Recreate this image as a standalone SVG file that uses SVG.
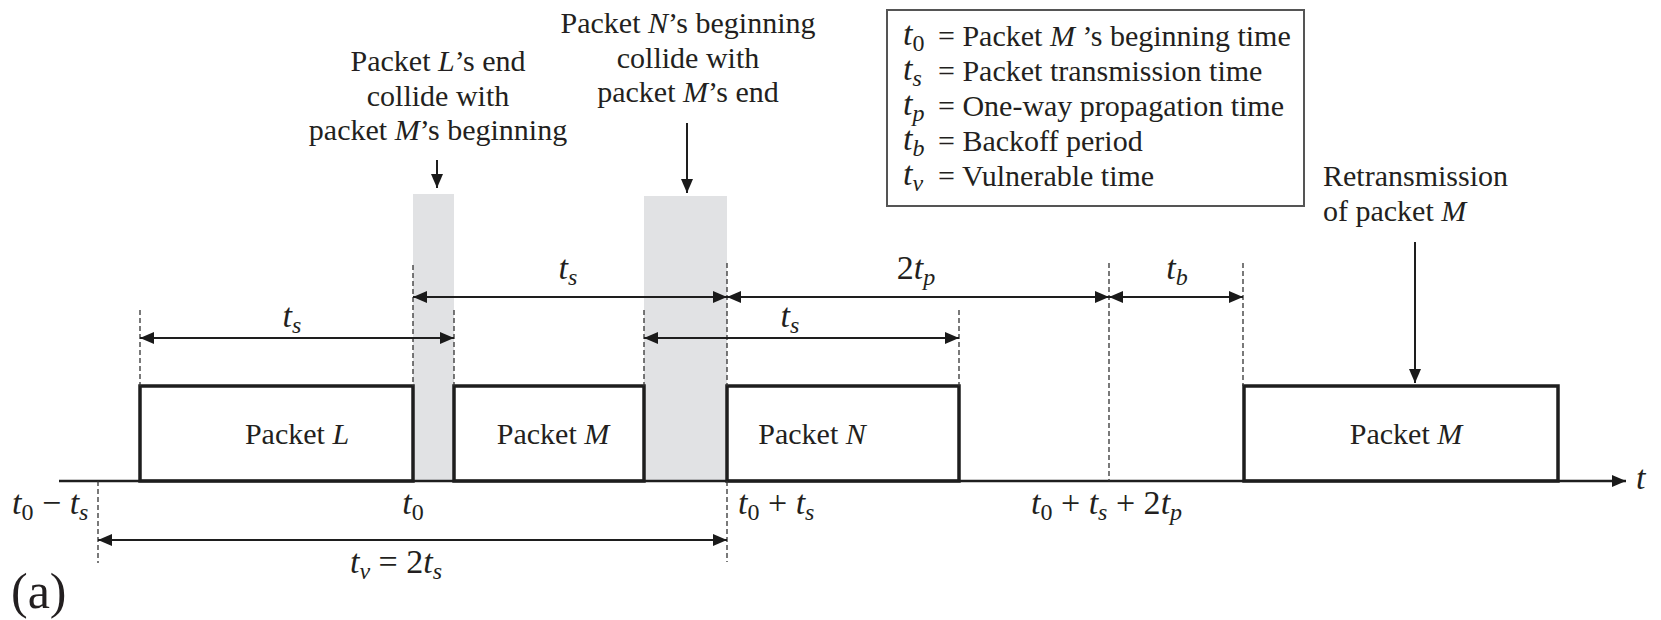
<svg xmlns="http://www.w3.org/2000/svg" width="1661" height="620" viewBox="0 0 1661 620">
<style>
.txt{font-family:"Liberation Serif","Times New Roman",serif;font-size:30px;fill:#231f20}
.m{font-family:"Liberation Serif","Times New Roman",serif;font-style:italic;font-size:34px;fill:#231f20}
.up{font-style:normal}
.sub{font-size:24px}
.it{font-style:italic}
.box{fill:#fff;stroke:#1e1e1e;stroke-width:3.5}
.gray{fill:#e1e2e4}
.dash{stroke:#333;stroke-width:1.3;stroke-dasharray:5 3;fill:none}
.dim{stroke:#1e1e1e;stroke-width:2.2;fill:none;marker-start:url(#ah);marker-end:url(#ah)}
.call{stroke:#1e1e1e;stroke-width:2;fill:none;marker-end:url(#ah)}
.axis{stroke:#1e1e1e;stroke-width:2.6;fill:none;marker-end:url(#ah)}
.legend{fill:#fff;stroke:#555;stroke-width:2}
</style>
<defs>
<marker id="ah" viewBox="0 0 14 12" refX="14" refY="6" markerWidth="14" markerHeight="12" markerUnits="userSpaceOnUse" orient="auto-start-reverse">
<path d="M0,0 L14,6 L0,12 z" fill="#1a1a1a"/>
</marker>
</defs>
<rect width="1661" height="620" fill="#fff"/>

<g id="collision-zones">
<rect class="gray" x="413" y="194" width="41" height="287"/>
<rect class="gray" x="644" y="196" width="83" height="285"/>
</g>

<g id="packet-L"><rect class="box" x="140" y="386" width="273" height="95"/>
<text class="txt" x="297" y="444" text-anchor="middle">Packet <tspan class="it">L</tspan></text></g>
<g id="packet-M"><rect class="box" x="454" y="386" width="190" height="95"/>
<text class="txt" x="553" y="444" text-anchor="middle">Packet <tspan class="it">M</tspan></text></g>
<g id="packet-N"><rect class="box" x="727" y="386" width="232" height="95"/>
<text class="txt" x="812" y="444" text-anchor="middle">Packet <tspan class="it">N</tspan></text></g>
<g id="packet-M-retx"><rect class="box" x="1244" y="386" width="314" height="95"/>
<text class="txt" x="1406" y="444" text-anchor="middle">Packet <tspan class="it">M</tspan></text></g>

<g id="connectors">
<line class="axis" x1="59" y1="481" x2="1626" y2="481"/>
<line class="dash" x1="140" y1="310" x2="140" y2="386"/>
<line class="dash" x1="413" y1="265" x2="413" y2="386"/>
<line class="dash" x1="454" y1="310" x2="454" y2="386"/>
<line class="dash" x1="644" y1="310" x2="644" y2="386"/>
<line class="dash" x1="727" y1="263" x2="727" y2="386"/>
<line class="dash" x1="727" y1="481" x2="727" y2="562"/>
<line class="dash" x1="959" y1="310" x2="959" y2="386"/>
<line class="dash" x1="1109" y1="263" x2="1109" y2="481"/>
<line class="dash" x1="1243" y1="263" x2="1243" y2="386"/>
<line class="dash" x1="98" y1="481" x2="98" y2="563"/>
<line class="dim" x1="413" y1="297" x2="727" y2="297"/>
<line class="dim" x1="727" y1="297" x2="1109" y2="297"/>
<line class="dim" x1="1109" y1="297" x2="1243" y2="297"/>
<line class="dim" x1="140" y1="338" x2="454" y2="338"/>
<line class="dim" x1="644" y1="338" x2="959" y2="338"/>
<line class="dim" x1="98" y1="540" x2="727" y2="540"/>
<line class="call" x1="437" y1="160" x2="437" y2="188"/>
<line class="call" x1="687" y1="123" x2="687" y2="193"/>
<line class="call" x1="1415" y1="242" x2="1415" y2="383"/>
</g>

<g id="labels">
<text class="m" x="292" y="327" text-anchor="middle">t<tspan class="sub" dy="6">s</tspan></text>
<text class="m" x="568" y="279" text-anchor="middle">t<tspan class="sub" dy="6">s</tspan></text>
<text class="m" x="790" y="327" text-anchor="middle">t<tspan class="sub" dy="6">s</tspan></text>
<text class="m" x="916" y="279" text-anchor="middle"><tspan class="up">2</tspan>t<tspan class="sub" dy="6">p</tspan></text>
<text class="m" x="1177" y="279" text-anchor="middle">t<tspan class="sub" dy="6">b</tspan></text>
<text class="m" x="12" y="514">t<tspan class="sub up" dy="6">0</tspan><tspan class="up" dy="-6"> − </tspan>t<tspan class="sub" dy="6">s</tspan></text>
<text class="m" x="413" y="514" text-anchor="middle">t<tspan class="sub up" dy="6">0</tspan></text>
<text class="m" x="738" y="514">t<tspan class="sub up" dy="6">0</tspan><tspan class="up" dy="-6"> + </tspan>t<tspan class="sub" dy="6">s</tspan></text>
<text class="m" x="1031" y="514">t<tspan class="sub up" dy="6">0</tspan><tspan class="up" dy="-6"> + </tspan>t<tspan class="sub" dy="6">s</tspan><tspan class="up" dy="-6"> + 2</tspan>t<tspan class="sub" dy="6">p</tspan></text>
<text class="m" x="396" y="573" text-anchor="middle">t<tspan class="sub" dy="6">v</tspan><tspan class="up" dy="-6"> = 2</tspan>t<tspan class="sub" dy="6">s</tspan></text>
<text class="m" x="1636" y="489">t</text>
<text class="txt" x="11" y="608" style="font-size:50px">(a)</text>
</g>

<g id="note-L">
<text class="txt" x="438" y="71" text-anchor="middle">Packet <tspan class="it">L</tspan>’s end</text>
<text class="txt" x="438" y="106" text-anchor="middle">collide with</text>
<text class="txt" x="438" y="140" text-anchor="middle">packet <tspan class="it">M</tspan>’s beginning</text>
</g>
<g id="note-N">
<text class="txt" x="688" y="33" text-anchor="middle">Packet <tspan class="it">N</tspan>’s beginning</text>
<text class="txt" x="688" y="68" text-anchor="middle">collide with</text>
<text class="txt" x="688" y="102" text-anchor="middle">packet <tspan class="it">M</tspan>’s end</text>
</g>
<g id="note-retx">
<text class="txt" x="1323" y="186">Retransmission</text>
<text class="txt" x="1323" y="221">of packet <tspan class="it">M</tspan></text>
</g>

<g id="legend">
<rect class="legend" x="887" y="10" width="417" height="196"/>
<text class="m" x="903" y="45">t<tspan class="sub up" dy="6">0</tspan></text>
<text class="txt" x="938" y="46">= Packet <tspan class="it">M</tspan> ’s beginning time</text>
<text class="m" x="903" y="80">t<tspan class="sub" dy="6">s</tspan></text>
<text class="txt" x="938" y="81">= Packet transmission time</text>
<text class="m" x="903" y="115">t<tspan class="sub" dy="6">p</tspan></text>
<text class="txt" x="938" y="116">= One-way propagation time</text>
<text class="m" x="903" y="150">t<tspan class="sub" dy="6">b</tspan></text>
<text class="txt" x="938" y="151">= Backoff period</text>
<text class="m" x="903" y="185">t<tspan class="sub" dy="6">v</tspan></text>
<text class="txt" x="938" y="186">= Vulnerable time</text>
</g>
</svg>
